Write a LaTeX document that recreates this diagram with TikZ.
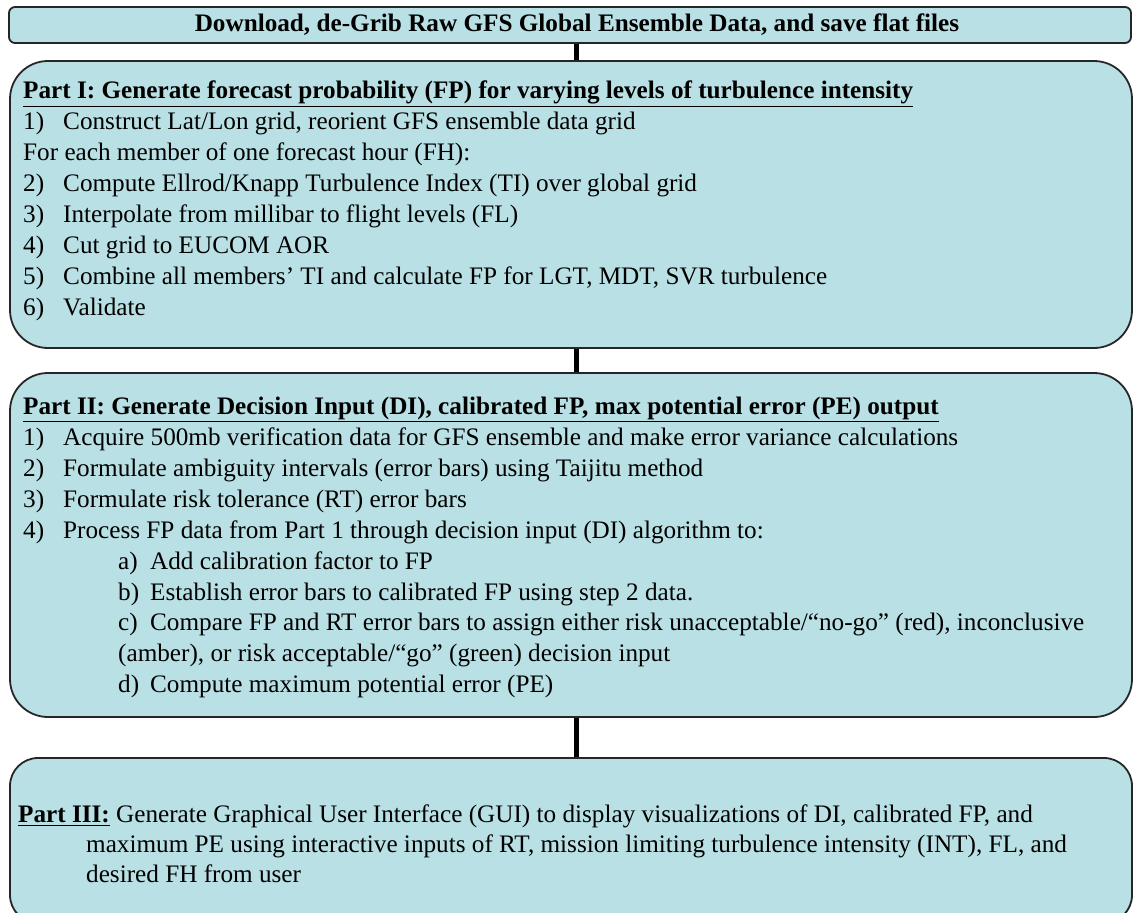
\documentclass[tikz,border=0pt]{standalone}
\usepackage{fontspec}
\setmainfont{Liberation Serif}
\usetikzlibrary{positioning}
\definecolor{stageblue}{RGB}{185,224,228}
\newcommand{\steplbl}[2][40pt]{\makebox[#1][l]{#2}}
\newcommand{\sublbl}[1]{\hspace*{95pt}\makebox[32pt][l]{#1}}

\begin{document}
\begin{tikzpicture}[x=1pt,y=1pt,
  stage/.style = {shape=rectangle, draw=black!85, line width=1.8pt, fill=stageblue, inner sep=0pt, minimum width=1122pt},
  body/.style = {anchor=north west, align=left, inner sep=0pt, font=\fontsize{25.2}{30.9}\selectfont},
  link/.style = {line width=5pt, black}]
\clip (0,0) rectangle (1133,-913);

% the four stages
\node (grib) [stage, rounded corners=6pt, minimum height=36pt, font=\fontsize{25.2}{30}\selectfont\bfseries] at (570,-25) {\hspace*{14pt}Download, de-Grib Raw GFS Global Ensemble Data, and save flat files};
\node (part1) [stage, rounded corners=38pt, minimum height=287pt] at (571,-204.5) {};
\node (part2) [stage, rounded corners=38pt, minimum height=344pt] at (571,-545) {};
\node (part3) [stage, rounded corners=28pt, minimum height=165pt] at (571,-840.5) {};

% texts
\node (part1txt) [body] at (23,-81) {\underline{\textbf{Part I: Generate forecast probability (FP) for varying levels of turbulence intensity}}\\
\steplbl{1)}Construct Lat/Lon grid, reorient GFS ensemble data grid\\
For each member of one forecast hour (FH):\\
\steplbl{2)}Compute Ellrod/Knapp Turbulence Index (TI) over global grid\\
\steplbl{3)}Interpolate from millibar to flight levels (FL)\\
\steplbl{4)}Cut grid to EUCOM AOR\\
\steplbl{5)}Combine all members’ TI and calculate FP for LGT, MDT, SVR turbulence\\
\steplbl{6)}Validate};

\node (part2txt) [body] at (23,-397) {\underline{\textbf{Part II: Generate Decision Input (DI), calibrated FP, max potential error (PE) output}}\\
\steplbl{1)}Acquire 500mb verification data for GFS ensemble and make error variance calculations\\
\steplbl{2)}Formulate ambiguity intervals (error bars) using Taijitu method\\
\steplbl{3)}Formulate risk tolerance (RT) error bars\\
\steplbl{4)}Process FP data from Part 1 through decision input (DI) algorithm to:\\
\sublbl{a)}Add calibration factor to FP\\
\sublbl{b)}Establish error bars to calibrated FP using step 2 data.\\
\sublbl{c)}Compare FP and RT error bars to assign either risk unacceptable/“no-go” (red), inconclusive\\
\hspace*{95pt}(amber), or risk acceptable/“go” (green) decision input\\
\sublbl{d)}Compute maximum potential error (PE)};

\node (part3txt) [body, font=\fontsize{25.2}{30}\selectfont] at (18,-805) {\underline{\textbf{Part III:}} Generate Graphical User Interface (GUI) to display visualizations of DI, calibrated FP, and\\
\hspace*{68pt}maximum PE using interactive inputs of RT, mission limiting turbulence intensity (INT), FL, and\\
\hspace*{68pt}desired FH from user};

% connectors
\coordinate (spine) at (576,0);
\draw[link] (grib.south -| spine) -- (part1.north -| spine);
\draw[link] (part1.south -| spine) -- (part2.north -| spine);
\draw[link] (part2.south -| spine) -- (part3.north -| spine);
\end{tikzpicture}
\end{document}
